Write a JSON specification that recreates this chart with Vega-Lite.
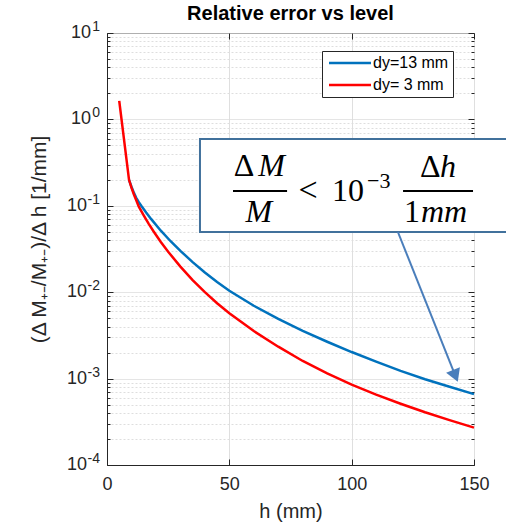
{
  "$schema": "https://vega.github.io/schema/vega-lite/v6.json",
  "width": 367,
  "height": 432,
  "autosize": {"type": "none"},
  "padding": {"left": 107, "top": 33, "right": 32, "bottom": 59},
  "background": "white",
  "title": {"text": "Relative error vs level", "font": "Liberation Sans", "fontSize": 20, "fontWeight": "bold", "color": "#000000", "anchor": "middle", "offset": -4, "frame": "group"},
  "config": {
    "view": {"stroke": "#262626", "strokeWidth": 1},
    "legend": {
      "orient": "none", "legendX": 215, "legendY": 18, "direction": "vertical",
      "fillColor": "white", "strokeColor": "#262626", "strokeWidth": 1, "padding": 4, "cornerRadius": 0,
      "symbolType": "M-4.2,0L4.2,0", "symbolSize": 100, "symbolStrokeWidth": 2.5, "symbolOffset": 16,
      "labelOffset": 15, "labelFont": "Liberation Sans", "labelFontSize": 16, "labelColor": "#000000",
      "rowPadding": 6, "title": null
    }
  },
  "datasets": {
    "curves": [
      {"h": 9, "v": 0.2, "series": "dy=13 mm"},
      {"h": 10, "v": 0.166, "series": "dy=13 mm"},
      {"h": 11, "v": 0.141, "series": "dy=13 mm"},
      {"h": 12, "v": 0.123, "series": "dy=13 mm"},
      {"h": 13, "v": 0.110, "series": "dy=13 mm"},
      {"h": 14, "v": 0.100, "series": "dy=13 mm"},
      {"h": 16, "v": 0.0836, "series": "dy=13 mm"},
      {"h": 18, "v": 0.0705, "series": "dy=13 mm"},
      {"h": 22, "v": 0.0515, "series": "dy=13 mm"},
      {"h": 26, "v": 0.0389, "series": "dy=13 mm"},
      {"h": 30, "v": 0.0301, "series": "dy=13 mm"},
      {"h": 35, "v": 0.0223, "series": "dy=13 mm"},
      {"h": 40, "v": 0.0169, "series": "dy=13 mm"},
      {"h": 45, "v": 0.0131, "series": "dy=13 mm"},
      {"h": 50, "v": 0.0104, "series": "dy=13 mm"},
      {"h": 60, "v": 0.00697, "series": "dy=13 mm"},
      {"h": 70, "v": 0.0049, "series": "dy=13 mm"},
      {"h": 80, "v": 0.00357, "series": "dy=13 mm"},
      {"h": 90, "v": 0.00267, "series": "dy=13 mm"},
      {"h": 100, "v": 0.00203, "series": "dy=13 mm"},
      {"h": 110, "v": 0.00157, "series": "dy=13 mm"},
      {"h": 120, "v": 0.00123, "series": "dy=13 mm"},
      {"h": 130, "v": 0.000982, "series": "dy=13 mm"},
      {"h": 140, "v": 0.000804, "series": "dy=13 mm"},
      {"h": 150, "v": 0.000661, "series": "dy=13 mm"},
      {"h": 5, "v": 1.64, "series": "dy= 3 mm"},
      {"h": 9, "v": 0.2, "series": "dy= 3 mm"},
      {"h": 10, "v": 0.162, "series": "dy= 3 mm"},
      {"h": 11, "v": 0.135, "series": "dy= 3 mm"},
      {"h": 12, "v": 0.115, "series": "dy= 3 mm"},
      {"h": 13, "v": 0.0977, "series": "dy= 3 mm"},
      {"h": 15, "v": 0.0774, "series": "dy= 3 mm"},
      {"h": 17, "v": 0.0622, "series": "dy= 3 mm"},
      {"h": 19, "v": 0.0507, "series": "dy= 3 mm"},
      {"h": 22, "v": 0.0381, "series": "dy= 3 mm"},
      {"h": 25, "v": 0.0294, "series": "dy= 3 mm"},
      {"h": 30, "v": 0.0198, "series": "dy= 3 mm"},
      {"h": 35, "v": 0.0138, "series": "dy= 3 mm"},
      {"h": 40, "v": 0.0100, "series": "dy= 3 mm"},
      {"h": 45, "v": 0.00745, "series": "dy= 3 mm"},
      {"h": 50, "v": 0.00571, "series": "dy= 3 mm"},
      {"h": 60, "v": 0.00355, "series": "dy= 3 mm"},
      {"h": 70, "v": 0.00234, "series": "dy= 3 mm"},
      {"h": 80, "v": 0.0016, "series": "dy= 3 mm"},
      {"h": 90, "v": 0.00115, "series": "dy= 3 mm"},
      {"h": 100, "v": 0.000851, "series": "dy= 3 mm"},
      {"h": 110, "v": 0.000653, "series": "dy= 3 mm"},
      {"h": 120, "v": 0.000512, "series": "dy= 3 mm"},
      {"h": 130, "v": 0.000408, "series": "dy= 3 mm"},
      {"h": 140, "v": 0.000331, "series": "dy= 3 mm"},
      {"h": 150, "v": 0.000271, "series": "dy= 3 mm"}
    ],
    "decades": [
      {"v": 10, "e": "1", "neg": false},
      {"v": 1, "e": "0", "neg": false},
      {"v": 0.1, "e": "-1", "neg": true},
      {"v": 0.01, "e": "-2", "neg": true},
      {"v": 0.001, "e": "-3", "neg": true},
      {"v": 0.0001, "e": "-4", "neg": true}
    ],
    "one": [{}]
  },
  "resolve": {"axis": {"x": "independent", "y": "independent"}},
  "layer": [
    {
      "data": {"name": "curves"},
      "mark": {"type": "line", "strokeWidth": 2.5, "interpolate": "linear"},
      "encoding": {
        "x": {
          "field": "h", "type": "quantitative",
          "scale": {"domain": [0, 150], "nice": false, "zero": false},
          "axis": {
            "orient": "bottom", "values": [0, 50, 100, 150], "title": "h (mm)",
            "grid": true, "gridColor": "#dfdfdf", "tickSize": -6, "tickColor": "#262626",
            "domainColor": "#262626", "labelFont": "Liberation Sans", "labelFontSize": 18,
            "labelColor": "#262626", "labelPadding": 16, "labelFlush": false, "labelOverlap": false,
            "titleFont": "Liberation Sans", "titleFontSize": 20, "titleFontWeight": "normal",
            "titleColor": "#262626", "titlePadding": 8
          }
        },
        "y": {
          "field": "v", "type": "quantitative",
          "scale": {"type": "log", "domain": [0.0001, 10], "nice": false},
          "axis": {
            "orient": "left",
            "values": [0.0001, 0.0002, 0.0003, 0.0004, 0.0005, 0.0006, 0.0007, 0.0008, 0.0009, 0.001, 0.002, 0.003, 0.004, 0.005, 0.006, 0.007, 0.008, 0.009, 0.01, 0.02, 0.03, 0.04, 0.05, 0.06, 0.07, 0.08, 0.09, 0.1, 0.2, 0.3, 0.4, 0.5, 0.6, 0.7, 0.8, 0.9, 1, 2, 3, 4, 5, 6, 7, 8, 9, 10],
            "labels": false,
            "grid": true,
            "gridColor": {"condition": {"test": "abs(log(datum.value)/LN10 - round(log(datum.value)/LN10)) < 0.001", "value": "#dcdcdc"}, "value": "#dedede"},
            "gridDash": {"condition": {"test": "abs(log(datum.value)/LN10 - round(log(datum.value)/LN10)) < 0.001", "value": [1, 0]}, "value": [2, 2]},
            "tickSize": {"condition": {"test": "abs(log(datum.value)/LN10 - round(log(datum.value)/LN10)) < 0.001", "value": -6}, "value": -3},
            "tickColor": "#262626", "domainColor": "#262626",
            "title": "(Δ M₊₋/M₊₋)/Δ h [1/mm]",
            "titleFont": "Liberation Sans", "titleFontSize": 21, "titleFontWeight": "normal", "titleColor": "#262626",
            "titleAngle": -90, "titleX": -68, "titleY": 206, "titleAlign": "center", "titleBaseline": "middle"
          }
        },
        "color": {
          "field": "series", "type": "nominal",
          "scale": {"domain": ["dy=13 mm", "dy= 3 mm"], "range": ["#0072BD", "#FF0000"]}
        }
      }
    },
    {
      "data": {"name": "decades"},
      "transform": [{"filter": "!datum.neg"}],
      "mark": {"type": "text", "text": "10", "font": "Liberation Sans", "fontSize": 18, "color": "#262626", "align": "right", "baseline": "middle", "dx": -16, "clip": false},
      "encoding": {
        "x": {"datum": 0, "type": "quantitative", "axis": null},
        "y": {"field": "v", "type": "quantitative", "axis": null}
      }
    },
    {
      "data": {"name": "decades"},
      "transform": [{"filter": "datum.neg"}],
      "mark": {"type": "text", "text": "10", "font": "Liberation Sans", "fontSize": 18, "color": "#262626", "align": "right", "baseline": "middle", "dx": -20, "clip": false},
      "encoding": {
        "x": {"datum": 0, "type": "quantitative", "axis": null},
        "y": {"field": "v", "type": "quantitative", "axis": null}
      }
    },
    {
      "data": {"name": "decades"},
      "mark": {"type": "text", "font": "Liberation Sans", "fontSize": 14, "color": "#262626", "align": "right", "baseline": "alphabetic", "dx": -7, "dy": -2, "clip": false},
      "encoding": {
        "x": {"datum": 0, "type": "quantitative", "axis": null},
        "y": {"field": "v", "type": "quantitative", "axis": null},
        "text": {"field": "e"}
      }
    },
    {
      "data": {"name": "one"},
      "mark": {"type": "rect", "fill": "white", "stroke": "#41719c", "strokeWidth": 2, "clip": false},
      "encoding": {
        "x": {"datum": 38.0, "type": "quantitative", "axis": {"orient": "top", "values": [0, 50, 100, 150], "labels": false, "grid": false, "domain": false, "title": null, "tickSize": -6, "tickColor": "#262626"}},
        "x2": {"datum": 165},
        "y": {"datum": 0.5931, "type": "quantitative", "axis": {"orient": "right", "values": [0.0001, 0.0002, 0.0003, 0.0004, 0.0005, 0.0006, 0.0007, 0.0008, 0.0009, 0.001, 0.002, 0.003, 0.004, 0.005, 0.006, 0.007, 0.008, 0.009, 0.01, 0.02, 0.03, 0.04, 0.05, 0.06, 0.07, 0.08, 0.09, 0.1, 0.2, 0.3, 0.4, 0.5, 0.6, 0.7, 0.8, 0.9, 1, 2, 3, 4, 5, 6, 7, 8, 9, 10], "labels": false, "grid": false, "domain": false, "title": null, "tickColor": "#262626", "tickSize": {"condition": {"test": "abs(log(datum.value)/LN10 - round(log(datum.value)/LN10)) < 0.001", "value": -6}, "value": -3}}},
        "y2": {"datum": 0.04975}
      }
    },
    {
      "data": {"name": "one"},
      "mark": {"type": "rule", "stroke": "#4a7ebb", "strokeWidth": 2, "clip": false},
      "encoding": {
        "x": {"datum": 118.9, "type": "quantitative", "axis": null},
        "x2": {"datum": 142.4},
        "y": {"datum": 0.04975, "type": "quantitative", "axis": null},
        "y2": {"datum": 0.001076}
      }
    },
    {
      "data": {"name": "one"},
      "mark": {"type": "point", "shape": "triangle-up", "filled": true, "size": 220, "angle": 158.2, "color": "#4a7ebb", "opacity": 1, "clip": false},
      "encoding": {
        "x": {"datum": 142.4, "type": "quantitative", "axis": null},
        "y": {"datum": 0.001076, "type": "quantitative", "axis": null}
      }
    },
    {
      "data": {"name": "one"},
      "mark": {"type": "rule", "stroke": "black", "strokeWidth": 2},
      "encoding": {
        "x": {"datum": 51.5, "type": "quantitative", "axis": null},
        "x2": {"datum": 73.6},
        "y": {"datum": 0.1484, "type": "quantitative", "axis": null}
      }
    },
    {
      "data": {"name": "one"},
      "mark": {"type": "rule", "stroke": "black", "strokeWidth": 2},
      "encoding": {
        "x": {"datum": 121.0, "type": "quantitative", "axis": null},
        "x2": {"datum": 149.6},
        "y": {"datum": 0.1484, "type": "quantitative", "axis": null}
      }
    },
    {
      "data": {"name": "one"},
      "mark": {"type": "text", "text": "Δ", "font": "Liberation Serif", "fontSize": 32, "align": "left", "baseline": "alphabetic", "color": "black"},
      "encoding": {"x": {"datum": 51.8, "type": "quantitative", "axis": null}, "y": {"datum": 0.2213, "type": "quantitative", "axis": null}}
    },
    {
      "data": {"name": "one"},
      "mark": {"type": "text", "text": "M", "font": "Liberation Serif", "fontStyle": "italic", "fontSize": 32, "align": "left", "baseline": "alphabetic", "color": "black"},
      "encoding": {"x": {"datum": 61.8, "type": "quantitative", "axis": null}, "y": {"datum": 0.2213, "type": "quantitative", "axis": null}}
    },
    {
      "data": {"name": "one"},
      "mark": {"type": "text", "text": "M", "font": "Liberation Serif", "fontStyle": "italic", "fontSize": 32, "align": "center", "baseline": "alphabetic", "color": "black"},
      "encoding": {"x": {"datum": 62.1, "type": "quantitative", "axis": null}, "y": {"datum": 0.0649, "type": "quantitative", "axis": null}}
    },
    {
      "data": {"name": "one"},
      "mark": {"type": "text", "text": "<", "font": "Liberation Serif", "fontSize": 34, "align": "center", "baseline": "alphabetic", "color": "black"},
      "encoding": {"x": {"datum": 82.2, "type": "quantitative", "axis": null}, "y": {"datum": 0.1137, "type": "quantitative", "axis": null}}
    },
    {
      "data": {"name": "one"},
      "mark": {"type": "text", "text": "10", "font": "Liberation Serif", "fontSize": 32, "align": "left", "baseline": "alphabetic", "color": "black"},
      "encoding": {"x": {"datum": 92.0, "type": "quantitative", "axis": null}, "y": {"datum": 0.1137, "type": "quantitative", "axis": null}}
    },
    {
      "data": {"name": "one"},
      "mark": {"type": "text", "text": "−3", "font": "Liberation Serif", "fontSize": 22, "align": "left", "baseline": "alphabetic", "color": "black"},
      "encoding": {"x": {"datum": 106.3, "type": "quantitative", "axis": null}, "y": {"datum": 0.1607, "type": "quantitative", "axis": null}}
    },
    {
      "data": {"name": "one"},
      "mark": {"type": "text", "text": "Δ", "font": "Liberation Serif", "fontSize": 32, "align": "left", "baseline": "alphabetic", "color": "black"},
      "encoding": {"x": {"datum": 127.9, "type": "quantitative", "axis": null}, "y": {"datum": 0.2154, "type": "quantitative", "axis": null}}
    },
    {
      "data": {"name": "one"},
      "mark": {"type": "text", "text": "h", "font": "Liberation Serif", "fontStyle": "italic", "fontSize": 32, "align": "left", "baseline": "alphabetic", "color": "black"},
      "encoding": {"x": {"datum": 136.1, "type": "quantitative", "axis": null}, "y": {"datum": 0.2154, "type": "quantitative", "axis": null}}
    },
    {
      "data": {"name": "one"},
      "mark": {"type": "text", "text": "1", "font": "Liberation Serif", "fontSize": 32, "align": "left", "baseline": "alphabetic", "color": "black"},
      "encoding": {"x": {"datum": 121.4, "type": "quantitative", "axis": null}, "y": {"datum": 0.0649, "type": "quantitative", "axis": null}}
    },
    {
      "data": {"name": "one"},
      "mark": {"type": "text", "text": "mm", "font": "Liberation Serif", "fontStyle": "italic", "fontSize": 32, "align": "left", "baseline": "alphabetic", "color": "black"},
      "encoding": {"x": {"datum": 128.3, "type": "quantitative", "axis": null}, "y": {"datum": 0.0649, "type": "quantitative", "axis": null}}
    }
  ]
}
